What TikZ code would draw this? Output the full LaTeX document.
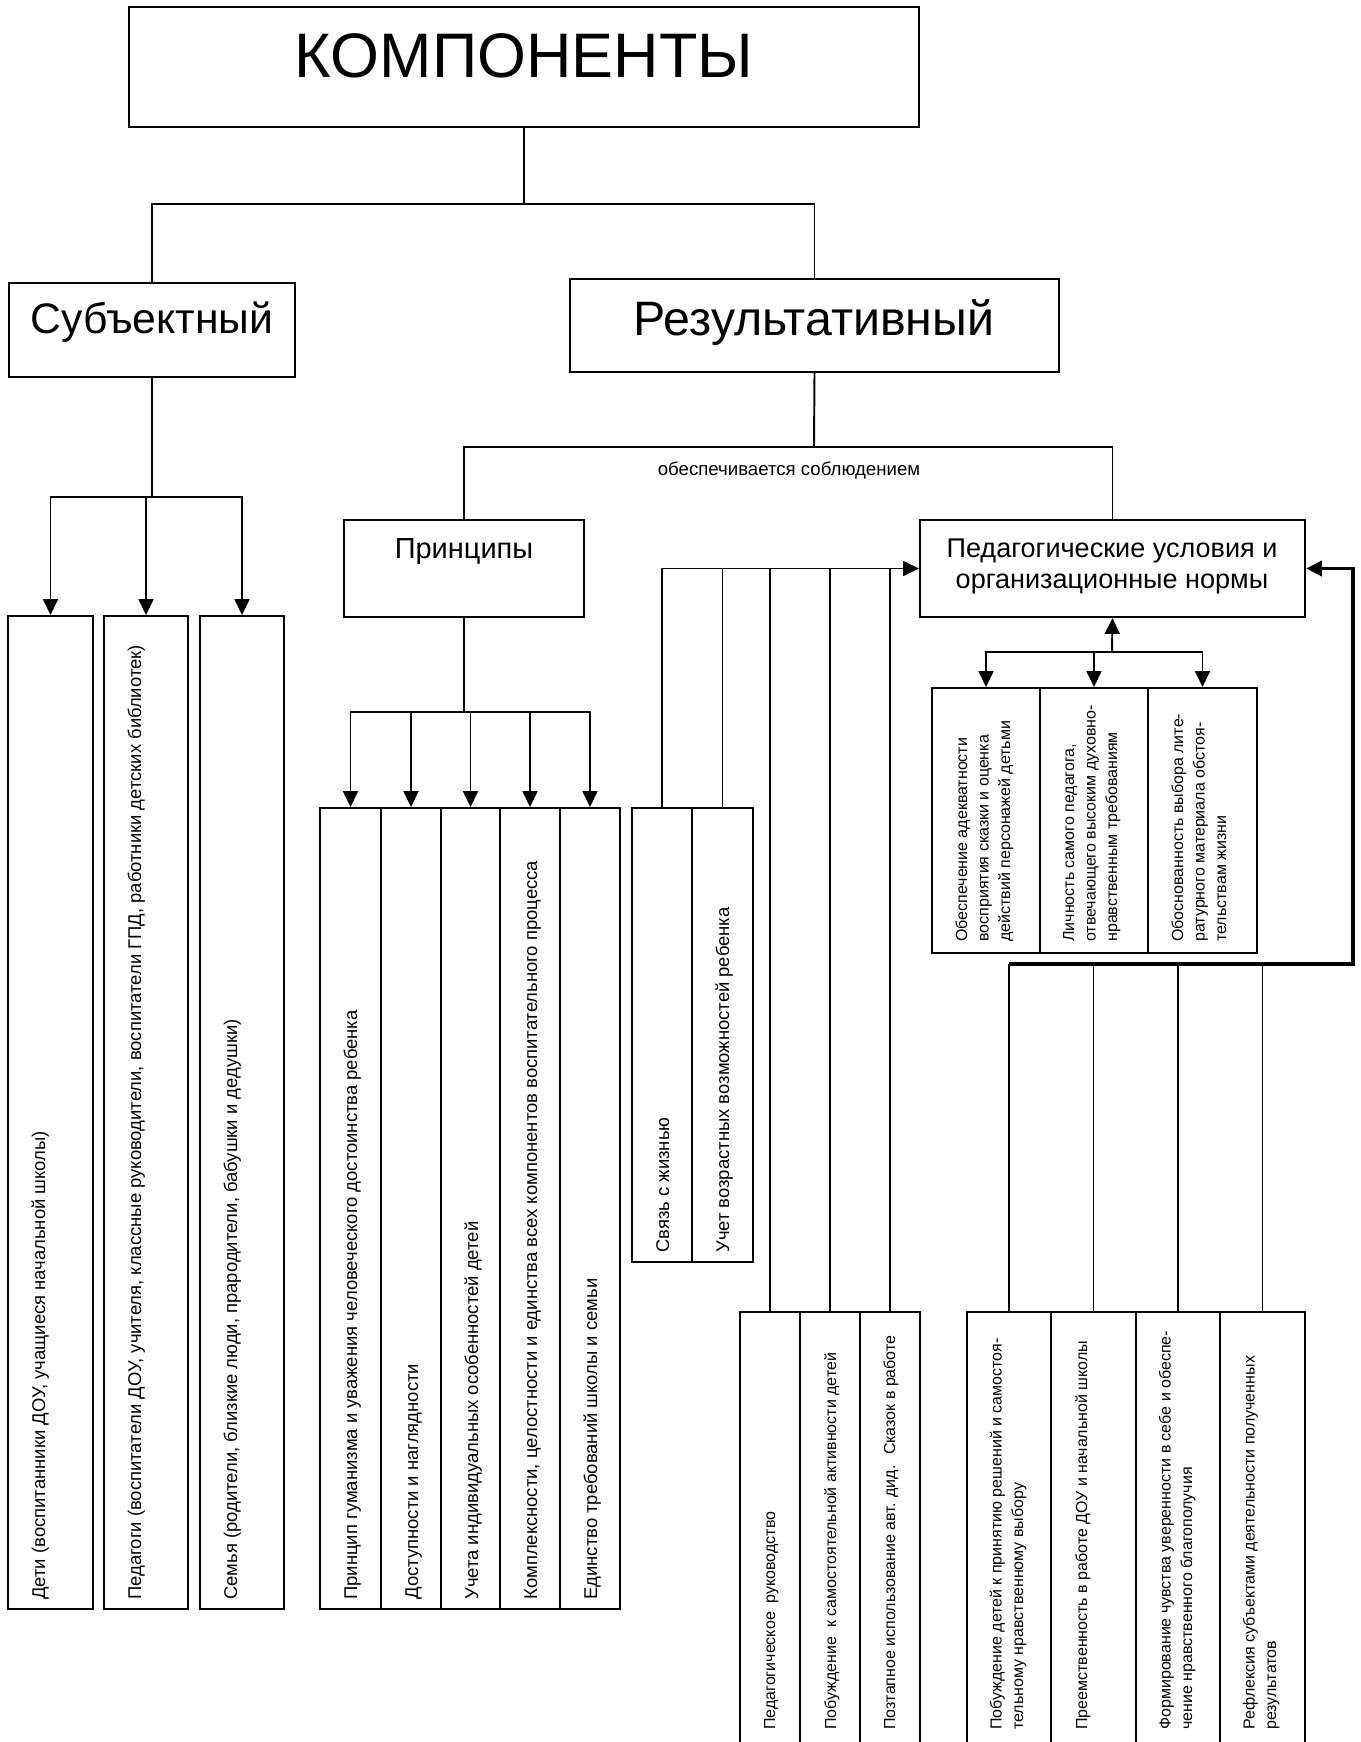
\documentclass[tikz,border=0pt]{standalone}
\usepackage{fontspec}
\setmainfont{Liberation Sans}
\usetikzlibrary{arrows.meta,fit}

\begin{document}
\begin{tikzpicture}[x=0.02cm,y=-0.02cm,
  box/.style={draw,line width=1.2pt,inner sep=0pt},
  ln/.style={line width=1.1pt},
  arr/.style={line width=1.1pt,-{Triangle[length=9pt,width=8.5pt]}},
  vt/.style={rotate=90,anchor=base west,inner sep=0pt,align=left,font=\fontsize{10.5}{12.6}\selectfont},
  vs/.style={rotate=90,anchor=base west,inner sep=0pt,align=left,font=\fontsize{9.1}{12.2}\selectfont}]
\useasboundingbox (0,0) rectangle (1360,1742);

\node[box,fit={(129,7) (919,127)}] (komp) {};
\node[box,fit={(9,283) (295,377)}] (subj) {};
\node[box,fit={(570,279) (1059,372)}] (res) {};
\node[box,fit={(344,520) (584,617)}] (princ) {};
\node[box,fit={(920,520) (1305,617)}] (ped) {};
\node[font=\fontsize{35.8}{40}\selectfont,anchor=base] (komp-t) at (524,77) {КОМПОНЕНТЫ};
\node[font=\fontsize{24.3}{28}\selectfont,anchor=base] (subj-t) at (152,333) {Субъектный};
\node[font=\fontsize{27.5}{30}\selectfont,anchor=base] (res-t) at (814,335) {Результативный};
\node[font=\fontsize{16.5}{20}\selectfont,anchor=base] (princ-t) at (464,558) {Принципы};
\node[font=\fontsize{15.4}{17.6}\selectfont,anchor=base,align=center] (ped-t) at (1112,588)
  {Педагогические условия и\\организационные нормы};
\node[font=\fontsize{10.6}{12}\selectfont,anchor=base] (lbl) at (789,475) {обеспечивается соблюдением};

% субъекты
\node[box,fit={(8,616) (93,1609)}] (deti) {};
\node[box,fit={(104,616) (188,1609)}] (pedag) {};
\node[box,fit={(200,616) (284,1609)}] (semya) {};
\node[vt] (deti-t) at (45,1600) {Дети (воспитанники ДОУ, учащиеся начальной школы)};
\node[vt] (pedag-t) at (141,1600) {Педагоги (воспитатели ДОУ, учителя, классные руководители, воспитатели ГПД, работники детских библиотек)};
\node[vt] (semya-t) at (237,1600) {Семья (родители, близкие люди, прародители, бабушки и дедушки)};

% принципы
\node[box,fit={(320,808) (381,1609)}] (pr1) {};
\node[box,fit={(381,808) (441,1609)}] (pr2) {};
\node[box,fit={(441,808) (500,1609)}] (pr3) {};
\node[box,fit={(500,808) (560,1609)}] (pr4) {};
\node[box,fit={(560,808) (620,1609)}] (pr5) {};
\node[vt] (pr1-t) at (357,1600) {Принцип гуманизма и уважения человеческого достоинства ребенка};
\node[vt] (pr2-t) at (418,1600) {Доступности и наглядности};
\node[vt] (pr3-t) at (478,1600) {Учета индивидуальных особенностей детей};
\node[vt] (pr4-t) at (537,1600) {Комплексности, целостности и единства всех компонентов воспитательного процесса};
\node[vt] (pr5-t) at (597,1600) {Единство требований школы и семьи};

\node[box,fit={(632,808) (692,1262)}] (svyaz) {};
\node[box,fit={(692,808) (753,1262)}] (uchet) {};
\node[vt] (svyaz-t) at (669,1253) {Связь с жизнью};
\node[vt] (uchet-t) at (729,1253) {Учет возрастных возможностей ребенка};

% условия
\node[box,fit={(932,688) (1040,953)}] (usl1) {};
\node[box,fit={(1040,688) (1148,953)}] (usl2) {};
\node[box,fit={(1148,688) (1257,953)}] (usl3) {};
\node[vs] (usl1-t) at (1010,942) {Обеспечение адекватности\\восприятия сказки и оценка\\действий персонажей детьми};
\node[vs] (usl2-t) at (1117,942) {Личность самого педагога,\\отвечающего высоким духовно-\\нравственным требованиям};
\node[vs] (usl3-t) at (1226,942) {Обоснованность выбора лите-\\ратурного материала обстоя-\\тельствам жизни};

% нормы
\node[box,fit={(740,1312) (800,1750)}] (mr1) {};
\node[box,fit={(800,1312) (860,1750)}] (mr2) {};
\node[box,fit={(860,1312) (920,1750)}] (mr3) {};
\node[vs] (mr1-t) at (775,1730) {Педагогическое~ руководство};
\node[vs] (mr2-t) at (836,1730) {Побуждение~ к самостоятельной активности детей};
\node[vs] (mr3-t) at (895,1730) {Позтапное использование авт. дид.~ Сказок в работе};
\node[box,fit={(967,1312) (1051,1750)}] (mn1) {};
\node[box,fit={(1051,1312) (1136,1750)}] (mn2) {};
\node[box,fit={(1136,1312) (1220,1750)}] (mn3) {};
\node[box,fit={(1220,1312) (1305,1750)}] (mn4) {};
\node[vs] (mn1-t) at (1023,1730) {Побуждение детей к принятию решений и самостоя-\\тельному нравственному выбору};
\node[vs] (mn2-t) at (1087,1730) {Преемственность в работе ДОУ и начальной школы};
\node[vs] (mn3-t) at (1192,1730) {Формирование чувства уверенности в себе и обеспе-\\чение нравственного благополучия};
\node[vs] (mn4-t) at (1276,1730) {Рефлексия субъектами деятельности полученных\\результатов};

\coordinate (kj) at (524,204);
\coordinate (sj) at (152,497);
\coordinate (rj) at (814,447);
\coordinate (pj) at (464,712);
\coordinate (cj) at (1112,652);
\coordinate (rl) at (1353,964);

\draw[ln] (komp.south) -- (kj) -| (subj.north);
\draw[ln] (kj) -| (res.north);
\draw[ln] (subj.south) -- (sj);
\draw[arr] (sj) -| (deti.north);
\draw[arr] (sj) -| (pedag.north);
\draw[arr] (sj) -| (semya.north);
\draw[ln] (res.south) -- (rj);
\draw[ln] (rj) -| (princ.north);
\draw[ln] (rj) -| (ped.north);
\draw[ln] (princ.south) -- (pj);
\foreach \n in {pr1,pr2,pr3,pr4,pr5}
  \draw[arr] (pj) -| (\n.north);
\draw[arr] (svyaz.north) |- (ped.west);
\foreach \n in {uchet,mr1,mr2,mr3}
  \draw[ln] (\n.north) -- (\n.north |- ped.west);
\draw[arr] (cj) -- (ped.south);
\foreach \n in {usl1,usl2,usl3}
  \draw[arr] (cj) -| (\n.north);
\foreach \n in {mn1,mn2,mn3,mn4}
  \draw[ln] (\n.north) -- (\n.north |- rl);
\draw[arr,line width=2.2pt] (mn1.north |- rl) -- (rl) |- (ped.east);
\end{tikzpicture}
\end{document}
